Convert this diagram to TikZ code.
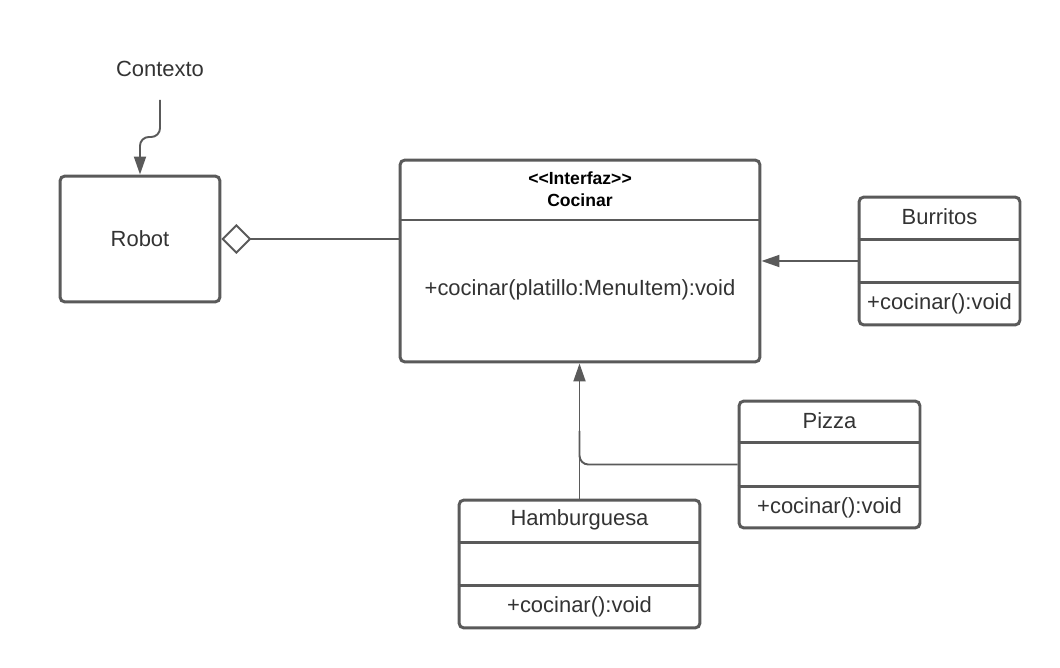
\documentclass[tikz,border=0pt]{standalone}
\usepackage{fontspec}
\setmainfont{Liberation Sans}
\usepackage{tikz}
\usetikzlibrary{arrows.meta, positioning, calc}
\definecolor{linegray}{RGB}{90,90,90}
\definecolor{textgray}{RGB}{51,51,51}

\begin{document}
\begin{tikzpicture}[
			x=0.02cm, y=-0.02cm,
			every node/.style={text=textgray, font=\fontsize{12.5}{15}\selectfont},
			box/.style={rectangle, draw=linegray, line width=1.7pt, rounded corners=2.8pt, fill=white},
			sep/.style={draw=linegray, line width=1.7pt},
			conn/.style={draw=linegray, line width=1.1pt},
			arrow/.style={conn, -{Triangle[length=3.6mm, width=2.4mm]}},
			title/.style={font=\bfseries\fontsize{10}{12.5}\selectfont, align=center, text=black}
		]
		
		\useasboundingbox (0,0) rectangle (1060,668);
		
		% Context and robot
		\node (ctx) at (160,69) {Contexto};
		\coordinate (ctxin) at (160,100);
		\node[box, minimum width=3.2cm, minimum height=2.52cm] (robot) at (140,239) {Robot};
		
		% Interface
		\node[box, minimum width=7.2cm, minimum height=4.04cm] (cocinar) at (580,261) {};
		\node[title] (cocinartitle) at (580,189) {<\kern0pt<Interfaz>\kern0pt>\\Cocinar};
		\draw[sep] (cocinar.west |- 0,220) -- (cocinar.east |- 0,220);
		\node (cocinarop) at (580,290) {+cocinar(platillo:MenuItem):void};
		
		% Concrete classes
		\node[box, minimum width=3.22cm, minimum height=2.56cm] (burr) at (939.5,261) {};
		\node[box, minimum width=3.62cm, minimum height=2.54cm] (pizza) at (829.5,464.5) {};
		\node[box, minimum width=4.82cm, minimum height=2.56cm] (hamb) at (579.5,564) {};
		
		\foreach \c/\name in {burr/Burritos, pizza/Pizza, hamb/Hamburguesa} {
			\draw[sep] ($(\c.north west)!0.333!(\c.south west)$) -- ($(\c.north east)!0.333!(\c.south east)$);
			\draw[sep] ($(\c.north west)!0.667!(\c.south west)$) -- ($(\c.north east)!0.667!(\c.south east)$);
			\node (\c title) at ($(\c.north)!0.16!(\c.south)$) {\name};
			\node (\c op) at ($(\c.north)!0.83!(\c.south)$) {+cocinar():void};
		}
		
		% Connectors
		\draw[arrow, rounded corners=5pt] (ctxin) -- (ctxin |- 0,137) -| (robot.north);
		\draw[conn, {Diamond[open, length=6mm, width=6mm]}-] (robot.east) -- (robot.east -| cocinar.west);
		\draw[arrow] (burr.west) -- (burr.west -| cocinar.east);
		\draw[arrow] (hamb.north) -- (hamb.north |- cocinar.south);
		\draw[conn, rounded corners=5pt] (pizza.west) -| ($(hamb.north)!0.5!(hamb.north |- cocinar.south)$);
		
\end{tikzpicture}
\end{document}
